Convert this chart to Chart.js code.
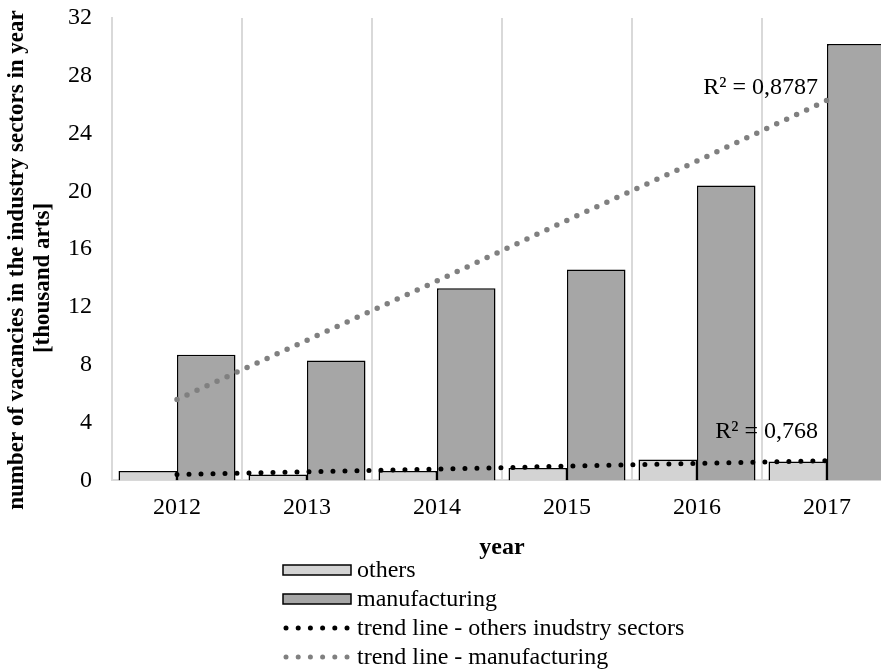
<!DOCTYPE html>
<html>
<head>
<meta charset="utf-8">
<script src="https://cdn.jsdelivr.net/npm/chart.js@4"></script>
<style>
    html, body { margin: 0; padding: 0; background: #fff; overflow: hidden; }
    #wrap { width: 881px; height: 670px; overflow: hidden; }
    #chart { display: block; }
</style>
</head>
<body>
<div id="wrap"><canvas id="chart" width="896" height="670"></canvas></div>
<script>
const years = ['2012', '2013', '2014', '2015', '2016', '2017'];
const others = [0.65, 0.4, 0.65, 0.85, 1.45, 1.3];  // thousand arts
const manufacturing = [8.7, 8.3, 13.3, 14.6, 20.4, 30.2];
const trendOthers = [0.41, 0.6, 0.79, 0.98, 1.17, 1.36];
const trendManufacturing = [5.6, 9.7, 13.8, 18.0, 22.1, 26.3];
const r2Labels = ['R² = 0,768', 'R² = 0,8787'];
const yTicks = [0, 4, 8, 12, 16, 20, 24, 28, 32];
const yTitle = ['number of vacancies in the industry sectors in year', '[thousand arts]'];
const legendNames = ['others', 'manufacturing', 'trend line - others inudstry sectors', 'trend line - manufacturing'];

const serif = '"Liberation Serif", "Times New Roman", serif';

// y axis title, R² labels and the vertical legend
const extras = {
    id: 'extras',
    afterDraw(chart) {
        const c = chart.ctx;
        const ds = chart.data.datasets;
        c.save();
        c.fillStyle = '#000';

        // y title (two lines, rotated)
        c.font = 'bold 23px ' + serif;
        c.textAlign = 'center';
        c.textBaseline = 'middle';
        c.save();
        c.rotate(-Math.PI / 2);
        c.fillText(yTitle[0], -260, 17);
        c.fillText(yTitle[1], -278, 43);
        c.restore();

        // R² labels near the end of each trend line
        c.font = '24px ' + serif;
        c.textAlign = 'right';
        const mO = chart.getDatasetMeta(2).data[5];
        const mM = chart.getDatasetMeta(3).data[5];
        c.fillText(r2Labels[0], mO.x - 9, mO.y - 29);
        c.fillText(r2Labels[1], mM.x - 9, mM.y - 13);

        // legend
        const x0 = 283, w = 68, rows = [570, 599, 628, 657];
        c.textAlign = 'left';
        ds.forEach((d, i) => {
            const y = rows[i];
            if (d.type === 'bar') {
                c.fillStyle = d.backgroundColor;
                c.fillRect(x0, y - 5, w, 10);
                c.lineWidth = 1.5;
                c.strokeStyle = '#000';
                c.strokeRect(x0, y - 5, w, 10);
            } else {
                c.fillStyle = d.borderColor;
                for (let k = 0; k < 6; k++) {
                    c.beginPath();
                    c.arc(x0 + 3 + k * 12.2, y, 2.5, 0, Math.PI * 2);
                    c.fill();
                }
            }
            c.fillStyle = '#000';
            c.fillText(legendNames[i], x0 + w + 6, y + 1);
        });
        c.restore();
    }
};

const ctx = document.getElementById('chart').getContext('2d');
const chart = new Chart(ctx, {
    type: 'bar',
    data: {
        labels: years,
        datasets: [
            {
                type: 'bar',
                label: legendNames[0],
                data: others,
                backgroundColor: '#d3d3d3',
                borderColor: '#000',
                borderWidth: 1.5,
                order: 2
            },
            {
                type: 'bar',
                label: legendNames[1],
                data: manufacturing,
                backgroundColor: '#a6a6a6',
                borderColor: '#000',
                borderWidth: 1.5,
                order: 2
            },
            {
                type: 'line',
                label: legendNames[2],
                data: trendOthers,
                borderColor: '#000',
                borderWidth: 5,
                borderDash: [0, 12],
                borderCapStyle: 'round',
                pointRadius: 0,
                fill: false,
                order: 0
            },
            {
                type: 'line',
                label: legendNames[3],
                data: trendManufacturing,
                borderColor: '#808080',
                borderWidth: 5.5,
                borderDash: [0, 11],
                borderCapStyle: 'round',
                pointRadius: 0,
                fill: false,
                order: 1
            }
        ]
    },
    options: {
        responsive: false,
        animation: false,
        layout: { padding: { top: 18, right: 4, bottom: 108, left: 0 } },
        datasets: {
            bar: { categoryPercentage: 0.9, barPercentage: 1.0 }
        },
        plugins: {
            legend: { display: false },
            tooltip: { enabled: false }
        },
        scales: {
            x: {
                grid: { display: true, offset: true, color: '#d9d9d9', lineWidth: 2, drawTicks: false },
                border: { display: true, color: '#d9d9d9', width: 2 },
                ticks: { color: '#000', font: { family: serif, size: 24 }, padding: 13, maxRotation: 0 },
                title: { display: true, text: 'year', color: '#000', font: { family: serif, size: 24, weight: 'bold' }, padding: { top: -2, bottom: 0 } }
            },
            y: {
                min: 0,
                max: 32,
                afterBuildTicks: (scale) => { scale.ticks = yTicks.map(v => ({ value: v })); },
                afterFit: (scale) => { scale.width = 112; scale.paddingTop = 0; scale.paddingBottom = 0; },
                grid: { display: false, drawTicks: false },
                border: { display: true, color: '#d9d9d9', width: 2 },
                ticks: { color: '#000', font: { family: serif, size: 24 }, padding: 20 }
            }
        }
    },
    plugins: [extras]
});
</script>
</body>
</html>
